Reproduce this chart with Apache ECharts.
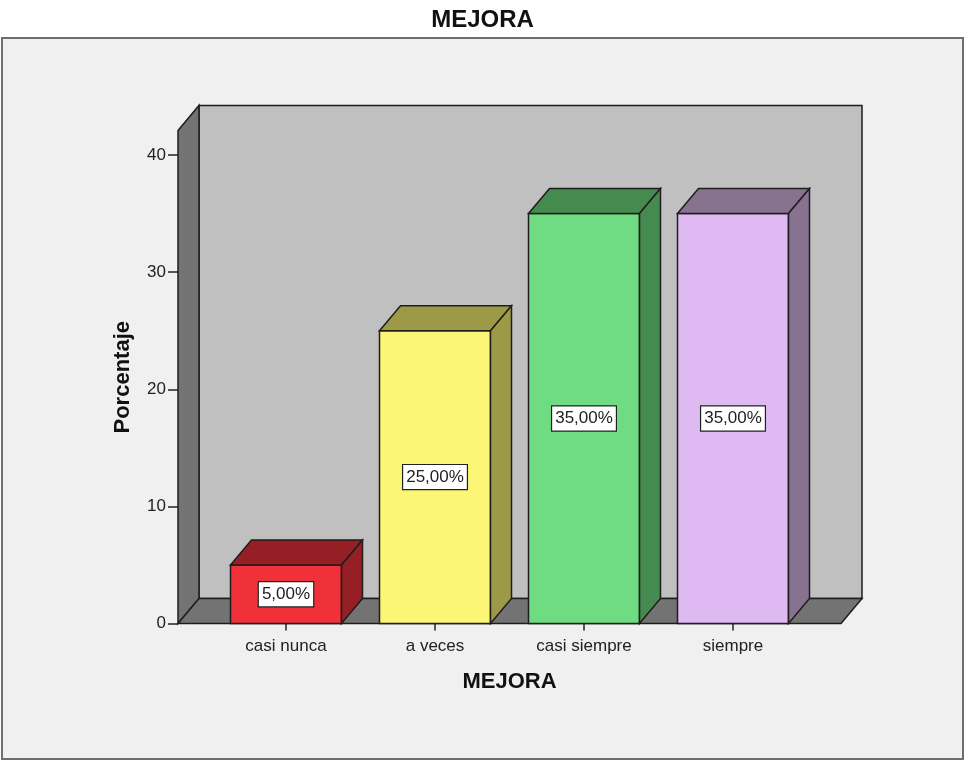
<!DOCTYPE html>
<html>
<head>
<meta charset="utf-8">
<script src="https://cdn.jsdelivr.net/npm/echarts@6/dist/echarts.min.js"></script>
<style>html,body{margin:0;padding:0;background:#fff;}#c{width:965px;height:761px;}</style>
</head>
<body>
<div id="c"></div>
<script>
var categories = ['casi nunca', 'a veces', 'casi siempre', 'siempre'];
var values = [5, 25, 35, 35];
var valueLabels = ['5,00%', '25,00%', '35,00%', '35,00%'];
var frontColors = ['#f03139', '#fbf675', '#6fdc83', '#dfb9f2'];
var sideColors = ['#951f24', '#9d9a47', '#458a4e', '#87728f'];
var yTicks = [0, 10, 20, 30, 40];
var wallTopValue = 42.1;

var DX = 21, DY = -25, PAD = 33.5;
var FONT = '"Liberation Sans", Arial, sans-serif';
var chart = echarts.init(document.getElementById('c'));

function wallsRender(params, api) {
  var cs = params.coordSys;
  var y0 = api.coord([0, 0])[1];
  var yt = api.coord([0, wallTopValue])[1];
  var xl = cs.x - PAD, xr = cs.x + cs.width + PAD;
  var st = {stroke: '#1e1e1e', lineWidth: 1.5};
  return {type: 'group', children: [
    {type: 'polygon', shape: {points: [[xl + DX, yt + DY], [xr + DX, yt + DY], [xr + DX, y0 + DY], [xl + DX, y0 + DY]]}, style: Object.assign({fill: '#c0c0c0'}, st)},
    {type: 'polygon', shape: {points: [[xl, yt], [xl + DX, yt + DY], [xl + DX, y0 + DY], [xl, y0]]}, style: Object.assign({fill: '#737373'}, st)},
    {type: 'polygon', shape: {points: [[xl, y0], [xl + DX, y0 + DY], [xr + DX, y0 + DY], [xr, y0]]}, style: Object.assign({fill: '#737373'}, st)}
  ]};
}

function barsRender(params, api) {
  var i = api.value(0);
  var v = api.value(1);
  var top = api.coord([i, v]);
  var y0 = api.coord([i, 0])[1];
  var ym = api.coord([i, v / 2])[1];
  var w = api.size([1, 0])[0] * 0.745;
  var l = top[0] - w / 2, r = top[0] + w / 2, yv = top[1];
  var st = {stroke: '#1e1e1e', lineWidth: 1.5};
  return {type: 'group', children: [
    {type: 'polygon', shape: {points: [[l, yv], [r, yv], [r, y0], [l, y0]]}, style: Object.assign({fill: frontColors[i]}, st)},
    {type: 'polygon', shape: {points: [[l, yv], [l + DX, yv + DY], [r + DX, yv + DY], [r, yv]]}, style: Object.assign({fill: sideColors[i]}, st)},
    {type: 'polygon', shape: {points: [[r, yv], [r + DX, yv + DY], [r + DX, y0 + DY], [r, y0]]}, style: Object.assign({fill: sideColors[i]}, st)},
    {type: 'text', style: {text: valueLabels[i], x: top[0], y: ym, align: 'center', verticalAlign: 'middle',
      font: '17px ' + FONT, fill: '#222', backgroundColor: '#fff',
      borderColor: '#222', borderWidth: 1.2, padding: [4, 3, 3, 3]}}
  ]};
}

var option = {
  backgroundColor: '#ffffff',
  animation: false,
  title: {text: 'MEJORA', left: 'center', top: 3,
    textStyle: {fontFamily: FONT, fontSize: 24, fontWeight: 'bold', color: '#111'}},
  graphic: [{type: 'rect', z: -10, shape: {x: 2, y: 38, width: 961, height: 721},
    style: {fill: '#f0f0f0', stroke: '#6e6e6e', lineWidth: 2}}],
  grid: {left: 211.5, width: 596, top: 155, bottom: 137.5},
  xAxis: {
    type: 'category', data: categories,
    axisLine: {show: false},
    axisTick: {show: true, alignWithLabel: true, length: 7, lineStyle: {color: '#222', width: 1.5}},
    axisLabel: {fontFamily: FONT, fontSize: 17, color: '#222', margin: 14},
    name: 'MEJORA', nameLocation: 'middle', nameGap: 47,
    nameTextStyle: {fontFamily: FONT, fontSize: 22, fontWeight: 'bold', color: '#111'}
  },
  yAxis: {
    type: 'value', min: 0, max: 40, interval: 10, offset: PAD,
    axisLine: {show: false},
    axisTick: {show: true, length: 10, lineStyle: {color: '#222', width: 1.5}},
    splitLine: {show: false},
    axisLabel: {fontFamily: FONT, fontSize: 17, color: '#222', margin: 12,
      formatter: function (v) { return yTicks.indexOf(v) >= 0 ? String(v) : ''; }},
    name: 'Porcentaje', nameLocation: 'middle', nameGap: 44,
    nameTextStyle: {fontFamily: FONT, fontSize: 22, fontWeight: 'bold', color: '#111', padding: [0, 0, 0, 24]}
  },
  series: [
    {type: 'custom', renderItem: wallsRender, data: [[0, 0]], z: 1, silent: true},
    {type: 'custom', renderItem: barsRender, z: 2,
      data: values.map(function (v, i) { return [i, v]; })}
  ]
};
chart.setOption(option);
</script>
</body>
</html>
